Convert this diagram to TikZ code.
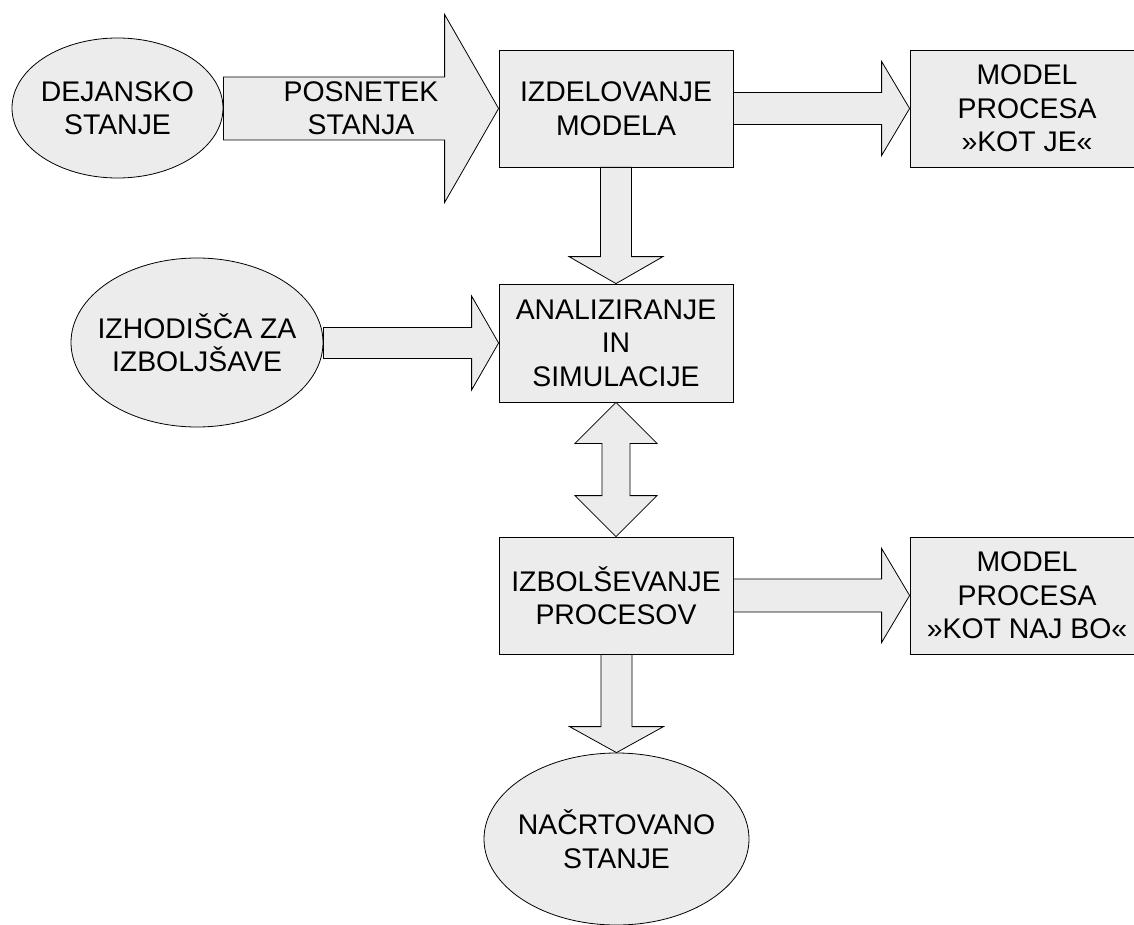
\documentclass[tikz,border=0pt]{standalone}
\usepackage{fontspec}
\setmainfont{Liberation Sans}
\usetikzlibrary{calc,shapes.geometric}
\definecolor{shapefill}{RGB}{236,236,236}
\tikzset{
  shapeline/.style={draw=black, line width=0.8pt, fill=shapefill},
  procbox/.style={shapeline, rectangle, inner sep=0pt, minimum width=234pt, minimum height=117pt},
  stateoval/.style={shapeline, ellipse, inner sep=0pt},
  caption/.style={align=center, inner sep=0pt, font=\fontsize{28.4pt}{33.5pt}\selectfont},
  blockarrow/.style={draw=black, line width=0.8pt, fill=shapefill, line join=miter},
}
% block arrow pointing right: start, tip, half shaft, half head, head length
\newcommand{\rightblock}[5]{%
  \path[blockarrow] let \p1=(#1), \p2=(#2) in
    (\x1,\y2+#3pt) -- (\x2-#5pt,\y2+#3pt) -- (\x2-#5pt,\y2+#4pt) -- (\x2,\y2)
    -- (\x2-#5pt,\y2-#4pt) -- (\x2-#5pt,\y2-#3pt) -- (\x1,\y2-#3pt) -- cycle;}
% block arrow pointing down: start, tip, half shaft, half head, head length
\newcommand{\downblock}[5]{%
  \path[blockarrow] let \p1=(#1), \p2=(#2) in
    (\x2-#3pt,\y1) -- (\x2-#3pt,\y2+#5pt) -- (\x2-#4pt,\y2+#5pt) -- (\x2,\y2)
    -- (\x2+#4pt,\y2+#5pt) -- (\x2+#3pt,\y2+#5pt) -- (\x2+#3pt,\y1) -- cycle;}
% vertical block arrow with a head at both ends: upper tip, lower tip, half shaft, half head, head length
\newcommand{\twowayblock}[5]{%
  \path[blockarrow] let \p1=(#1), \p2=(#2) in
    (\x1,\y1) -- (\x1+#4pt,\y1-#5pt) -- (\x1+#3pt,\y1-#5pt) -- (\x1+#3pt,\y2+#5pt)
    -- (\x1+#4pt,\y2+#5pt) -- (\x1,\y2) -- (\x1-#4pt,\y2+#5pt) -- (\x1-#3pt,\y2+#5pt)
    -- (\x1-#3pt,\y1-#5pt) -- (\x1-#4pt,\y1-#5pt) -- cycle;}
\begin{document}
\begin{tikzpicture}[x=1pt,y=-1pt]
\useasboundingbox (0,0) rectangle (1134,925);

% states and process steps
\node[stateoval, minimum width=211pt, minimum height=140pt] (e1) at (117.5,108) {};
\node[procbox] (b1) at (616,108.5) {};
\node[procbox] (r1) at (1027,108.5) {};
\node[stateoval, minimum width=252pt, minimum height=169pt] (e2) at (197,342.5) {};
\node[procbox, minimum height=118pt] (b2) at (616,343) {};
\node[procbox] (b3) at (616,595.5) {};
\node[procbox] (r2) at (1027,595.5) {};
\node[stateoval, minimum width=265pt, minimum height=172pt] (e3) at (616.5,839) {};

% block arrows between them
\rightblock{e1.east}{b1.west}{31.5}{94}{54}
\rightblock{b1.east}{r1.west}{16}{47}{28}
\downblock{b1.south}{b2.north}{15.5}{47}{27}
\rightblock{e2.east}{b2.west}{15.5}{47}{27}
\twowayblock{b2.south}{b3.north}{14}{41}{41}
\rightblock{b3.east}{r2.west}{16.5}{47}{28}
\downblock{b3.south}{e3.north}{15.5}{47}{26}

% texts
\node[caption] (e1t) at (e1) {DEJANSKO\\STANJE};
\node[caption] (a1t) at (361,108) {POSNETEK\\STANJA};
\node[caption] (b1t) at (b1) {IZDELOVANJE\\MODELA};
\node[caption] (r1t) at (r1) {MODEL\\PROCESA\\»KOT JE«};
\node[caption] (e2t) at (e2) {IZHODIŠČA ZA\\IZBOLJŠAVE};
\node[caption] (b2t) at (b2) {ANALIZIRANJE\\IN\\SIMULACIJE};
\node[caption] (b3t) at (b3) {IZBOLŠEVANJE\\PROCESOV};
\node[caption] (r2t) at (r2) {MODEL\\PROCESA\\»KOT NAJ BO«};
\node[caption] (e3t) at (e3) {NAČRTOVANO\\STANJE};
\end{tikzpicture}
\end{document}
